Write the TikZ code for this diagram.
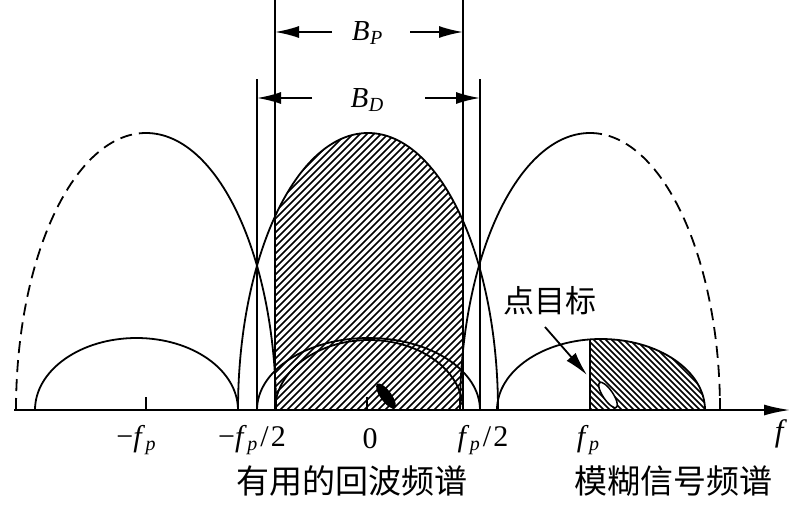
\documentclass[tikz,border=0pt]{standalone}
\usepackage{fontspec}
\setmainfont{Liberation Serif}
\newfontfamily\cjk{Noto Sans CJK SC}
\usetikzlibrary{arrows.meta}
\newcommand\fsub[2]{\textit{#1}\kern0.5pt\raisebox{-0.12em}{\fontsize{20}{20}\selectfont\textit{#2}}}
\tikzset{
  lobe/.style={line width=1.8pt},
  dashlobe/.style={line width=1.8pt, dash pattern=on 12pt off 7pt},
  vline/.style={line width=1.8pt},
  hatch/.style={line width=1.5pt},
  dimarrow/.style={line width=1.8pt, -{Latex[length=24pt,width=12pt]}},
  ticklab/.style={font=\fontsize{30}{32}\selectfont, inner sep=0pt},
  dimlab/.style={font=\fontsize{29}{31}\selectfont, inner sep=0pt},
  cjklab/.style={font=\cjk\fontsize{33}{36}\selectfont, inner sep=0pt},
}
\begin{document}
\begin{tikzpicture}[x=1pt,y=-1pt]
\useasboundingbox (0,0) rectangle (800,507);
% hatching of the useful echo band
\begin{scope}
  \clip (275,0) rectangle (463,410);
  \clip (368,410) ellipse [x radius=130, y radius=277];
  \foreach \x in {-140,-133,...,470} \draw[hatch] (\x,410) -- ++(410,-410);
\end{scope}
% hatching of the ambiguous band
\begin{scope}
  \clip (590,0) rectangle (705,410);
  \clip (601,410) ellipse [x radius=104, y radius=71];
  \foreach \x in {170,176,...,710} \draw[hatch] (\x,0) -- ++(410,410);
\end{scope}
% big lobes
\draw[dashlobe] (16,410) arc[start angle=180,end angle=270,x radius=130,y radius=277];
\draw[lobe] (146,133) arc[start angle=270,end angle=360,x radius=130,y radius=277];
\draw[lobe] (238,410) arc[start angle=180,end angle=360,x radius=130,y radius=277];
\draw[lobe] (460,410) arc[start angle=180,end angle=270,x radius=130,y radius=277];
\draw[dashlobe] (590,133) arc[start angle=270,end angle=360,x radius=130,y radius=277];
% small lobes
\draw[lobe] (35,410) arc[start angle=180,end angle=360,x radius=101.5,y radius=72];
\draw[lobe] (257,410) arc[start angle=180,end angle=360,x radius=111.5,y radius=72];
\draw[lobe] (275,410) arc[start angle=180,end angle=360,x radius=94,y radius=70];
\draw[lobe] (497,410) arc[start angle=180,end angle=360,x radius=104,y radius=71];
\draw[lobe] (590,339.4) -- (590,410);
% vertical band limits
\draw[vline] (257,79) -- (257,410);
\draw[vline] (275,0) -- (275,410);
\draw[vline] (463,0) -- (463,410);
\draw[vline] (480,79) -- (480,410);
% ticks
\draw[vline] (146,397) -- (146,410);
\draw[vline] (367,397) -- (367,410);
\draw[vline] (720,398) -- (720,410);
% axis
\draw[line width=1.8pt, -{Latex[length=26pt,width=11pt]}] (14,410) -- (790,410);
% targets
\fill[rotate around={-54:(386,396)}] (386,396) ellipse [x radius=15, y radius=5.5];
\draw[line width=1.5pt, fill=white, rotate around={-56:(608,395)}] (608,395) ellipse [x radius=15, y radius=5];
% dimension labels and arrows
\node[dimlab] (BP) at (367,33) {\fsub{B}{P}};
\node[dimlab] (BD) at (367,100) {\fsub{B}{D}};
\coordinate (bpla) at (332,32); \coordinate (bpl) at (275,32);
\coordinate (bpra) at (410,32); \coordinate (bpr) at (463,32);
\coordinate (bdla) at (312,98); \coordinate (bdl) at (257,98);
\coordinate (bdra) at (425,98); \coordinate (bdr) at (480,98);
\draw[dimarrow] (bpla) -- (bpl);
\draw[dimarrow] (bpra) -- (bpr);
\draw[dimarrow] (bdla) -- (bdl);
\draw[dimarrow] (bdra) -- (bdr);
% point target label
\node[cjklab, font=\cjk\fontsize{31}{34}\selectfont] (pt) at (550,301) {点目标};
\coordinate (pta) at (545,327); \coordinate (ptb) at (587,375);
\draw[dimarrow] (pta) -- (ptb);
% tick labels
\node[ticklab] (lmfp) at (136,440) {−\fsub{f}{p}};
\node[ticklab] (lmfp2) at (252,440) {−\fsub{f}{p}\kern3pt/\kern2pt2};
\node[ticklab] (l0) at (370,439) {0};
\node[ticklab] (lfp2) at (483,440) {\fsub{f}{p}\kern3pt/\kern2pt2};
\node[ticklab] (lfp) at (588,440) {\fsub{f}{p}};
\node[ticklab, font=\fontsize{31}{33}\selectfont] (lf) at (781,434) {\textit{f}};
% captions
\node[cjklab] (cap1) at (352,481) {有用的回波频谱};
\node[cjklab] (cap2) at (673,481) {模糊信号频谱};
\end{tikzpicture}
\end{document}
